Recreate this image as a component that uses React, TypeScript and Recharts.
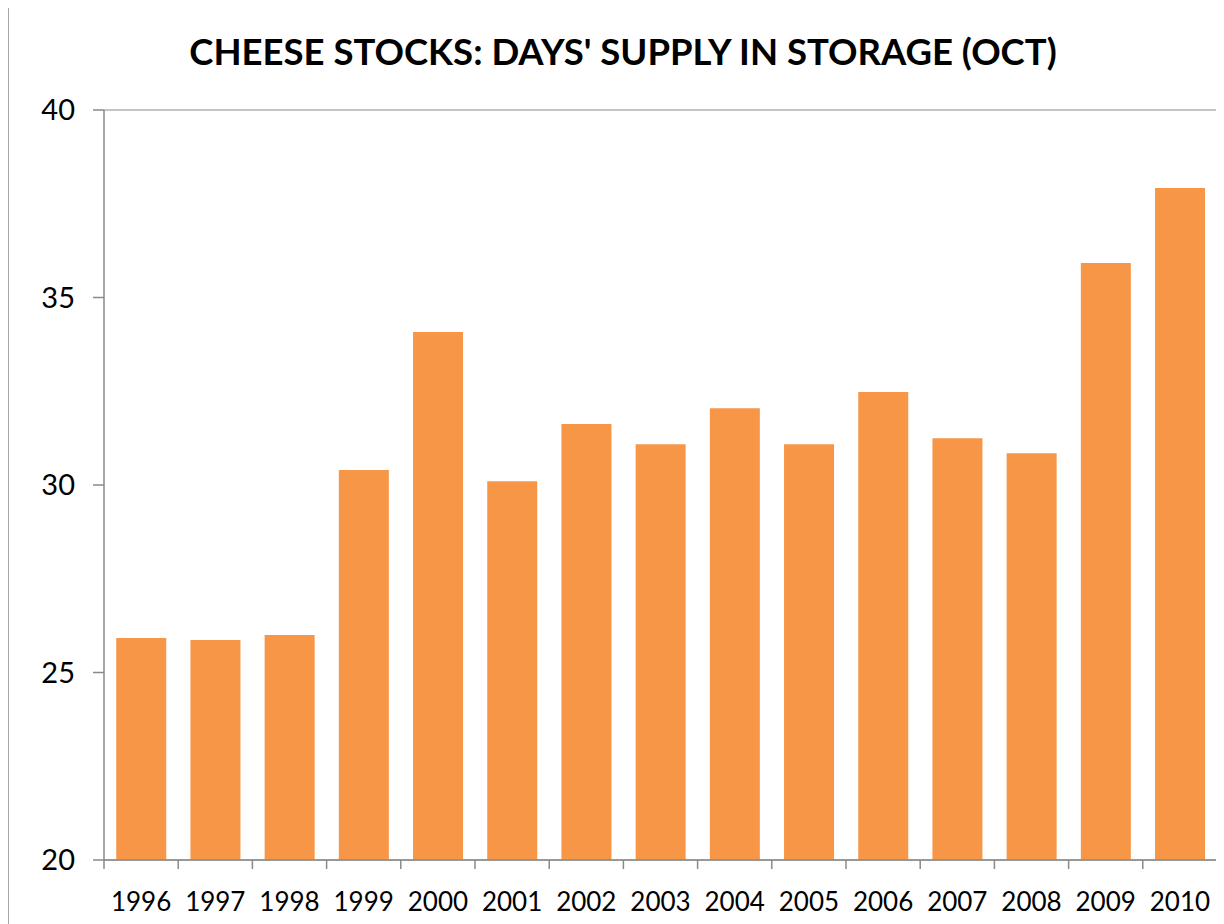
import { BarChart, Bar, XAxis, YAxis, CartesianGrid } from 'recharts';

const years = ['1996', '1997', '1998', '1999', '2000', '2001', '2002', '2003', '2004', '2005', '2006', '2007', '2008', '2009', '2010'];
const daysSupply = [25.92, 25.87, 26.0, 30.4, 34.08, 30.1, 31.63, 31.09, 32.05, 31.09, 32.48, 31.25, 30.85, 35.92, 37.92];
const yTicks = [20, 25, 30, 35, 40];

const data = years.map((year, i) => ({ year, value: daysSupply[i] }));

const FONT = 'Lato, "Open Sans", sans-serif';
const GRAY = '#8a8a8a';
const TICK_MARGIN = 22;
const TICK_LEN = 9;

// Excel-style category axis: tick marks sit between the bars, labels at the centre
const YearTick = (props: any) => {
  const { x, y, payload, index } = props;
  const half = payload?.offset ?? 37;
  const base = y - TICK_MARGIN;
  const last = index === years.length - 1;
  return (
    <g>
      <line x1={x - half} x2={x - half} y1={base} y2={base + TICK_LEN} stroke={GRAY} strokeWidth={1.5} />
      {last && <line x1={x + half} x2={x + half} y1={base} y2={base + TICK_LEN} stroke={GRAY} strokeWidth={1.5} />}
      <text x={x} y={y + 8} dy="0.8em" textAnchor="middle" fill="#000" fontSize={26} fontFamily={FONT}>
        {payload.value}
      </text>
    </g>
  );
};

export default function App() {
  return (
    <div
      style={{
        position: 'relative',
        width: 1230,
        height: 930,
        border: '1px solid #a6a6a6',
        boxSizing: 'border-box',
        fontFamily: FONT,
        background: '#fff',
        marginTop: -1,
      }}
    >
      <div
        style={{
          position: 'absolute',
          top: 21,
          left: 0,
          width: 1230,
          textAlign: 'center',
          fontSize: 36.5,
          fontWeight: 700,
          color: '#000',
          transform: 'translateX(-1px)',
        }}
      >
        CHEESE STOCKS: DAYS' SUPPLY IN STORAGE (OCT)
      </div>
      <div style={{ position: 'absolute', left: 0, top: 1 }}>
        <BarChart
          width={1215}
          height={915}
          data={data}
          margin={{ top: 101, right: 7, bottom: 0, left: 0 }}
          barCategoryGap="16.5%"
        >
          <CartesianGrid vertical={false} stroke={GRAY} strokeWidth={1} />
          <XAxis
            dataKey="year"
            height={64}
            tickSize={0}
            tickMargin={TICK_MARGIN}
            axisLine={{ stroke: GRAY, strokeWidth: 1.5 }}
            tickLine={false}
            tick={<YearTick />}
            interval={0}
          />
          <YAxis
            yAxisId="left"
            width={95}
            domain={[20, 40]}
            ticks={yTicks}
            tickSize={11}
            tickMargin={18}
            axisLine={{ stroke: GRAY, strokeWidth: 1.5 }}
            tickLine={{ stroke: GRAY, strokeWidth: 1.5 }}
            tick={{ fill: '#000', fontSize: 29, fontFamily: FONT }}
          />
          <YAxis
            yAxisId="right"
            orientation="right"
            width={0}
            domain={[20, 40]}
            tick={false}
            tickLine={false}
            axisLine={{ stroke: GRAY, strokeWidth: 1.5 }}
          />
          <Bar yAxisId="left" dataKey="value" fill="#F79646" isAnimationActive={false} />
        </BarChart>
      </div>
    </div>
  );
}
